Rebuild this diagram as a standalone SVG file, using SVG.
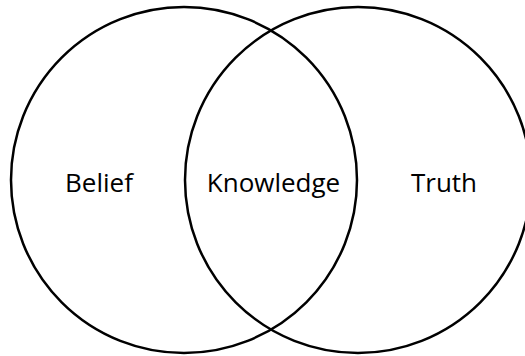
<svg xmlns="http://www.w3.org/2000/svg" width="525" height="356" viewBox="0 0 525 356">
<style>
.c{fill:none;stroke:#000;stroke-width:2.5}
.t{font-family:"Open Sans","Noto Sans",sans-serif;font-size:26px;fill:#000;text-anchor:middle}
</style>
<rect width="525" height="356" fill="#fff"/>
<g id="belief"><circle class="c" cx="184" cy="180" r="173"/><text class="t" x="99" y="192">Belief</text></g>
<g id="truth"><circle class="c" cx="358" cy="180" r="173"/><text class="t" x="444" y="192">Truth</text></g>
<g id="knowledge"><text class="t" x="273.5" y="192">Knowledge</text></g>
<g id="connectors"/>
</svg>
